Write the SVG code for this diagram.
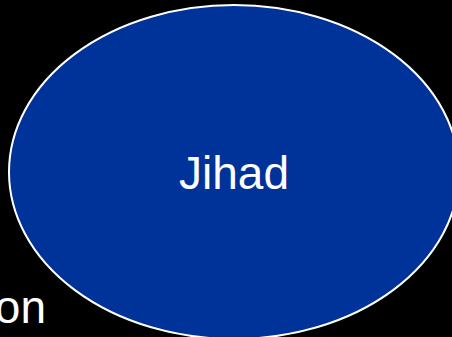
<svg xmlns="http://www.w3.org/2000/svg" width="452" height="337" viewBox="0 0 452 337">
<style>
.lbl{font-family:"Liberation Sans",Arial,sans-serif;fill:#fff;font-size:46px}
</style>
<rect width="452" height="337" fill="#000"/>
<text class="lbl" x="46" y="323" text-anchor="end">on</text>
<g id="jihad">
<ellipse cx="234" cy="172" rx="225" ry="167" fill="#003399" stroke="#fff" stroke-width="2"/>
<text class="lbl" x="234" y="189" text-anchor="middle">Jihad</text>
</g>
</svg>
